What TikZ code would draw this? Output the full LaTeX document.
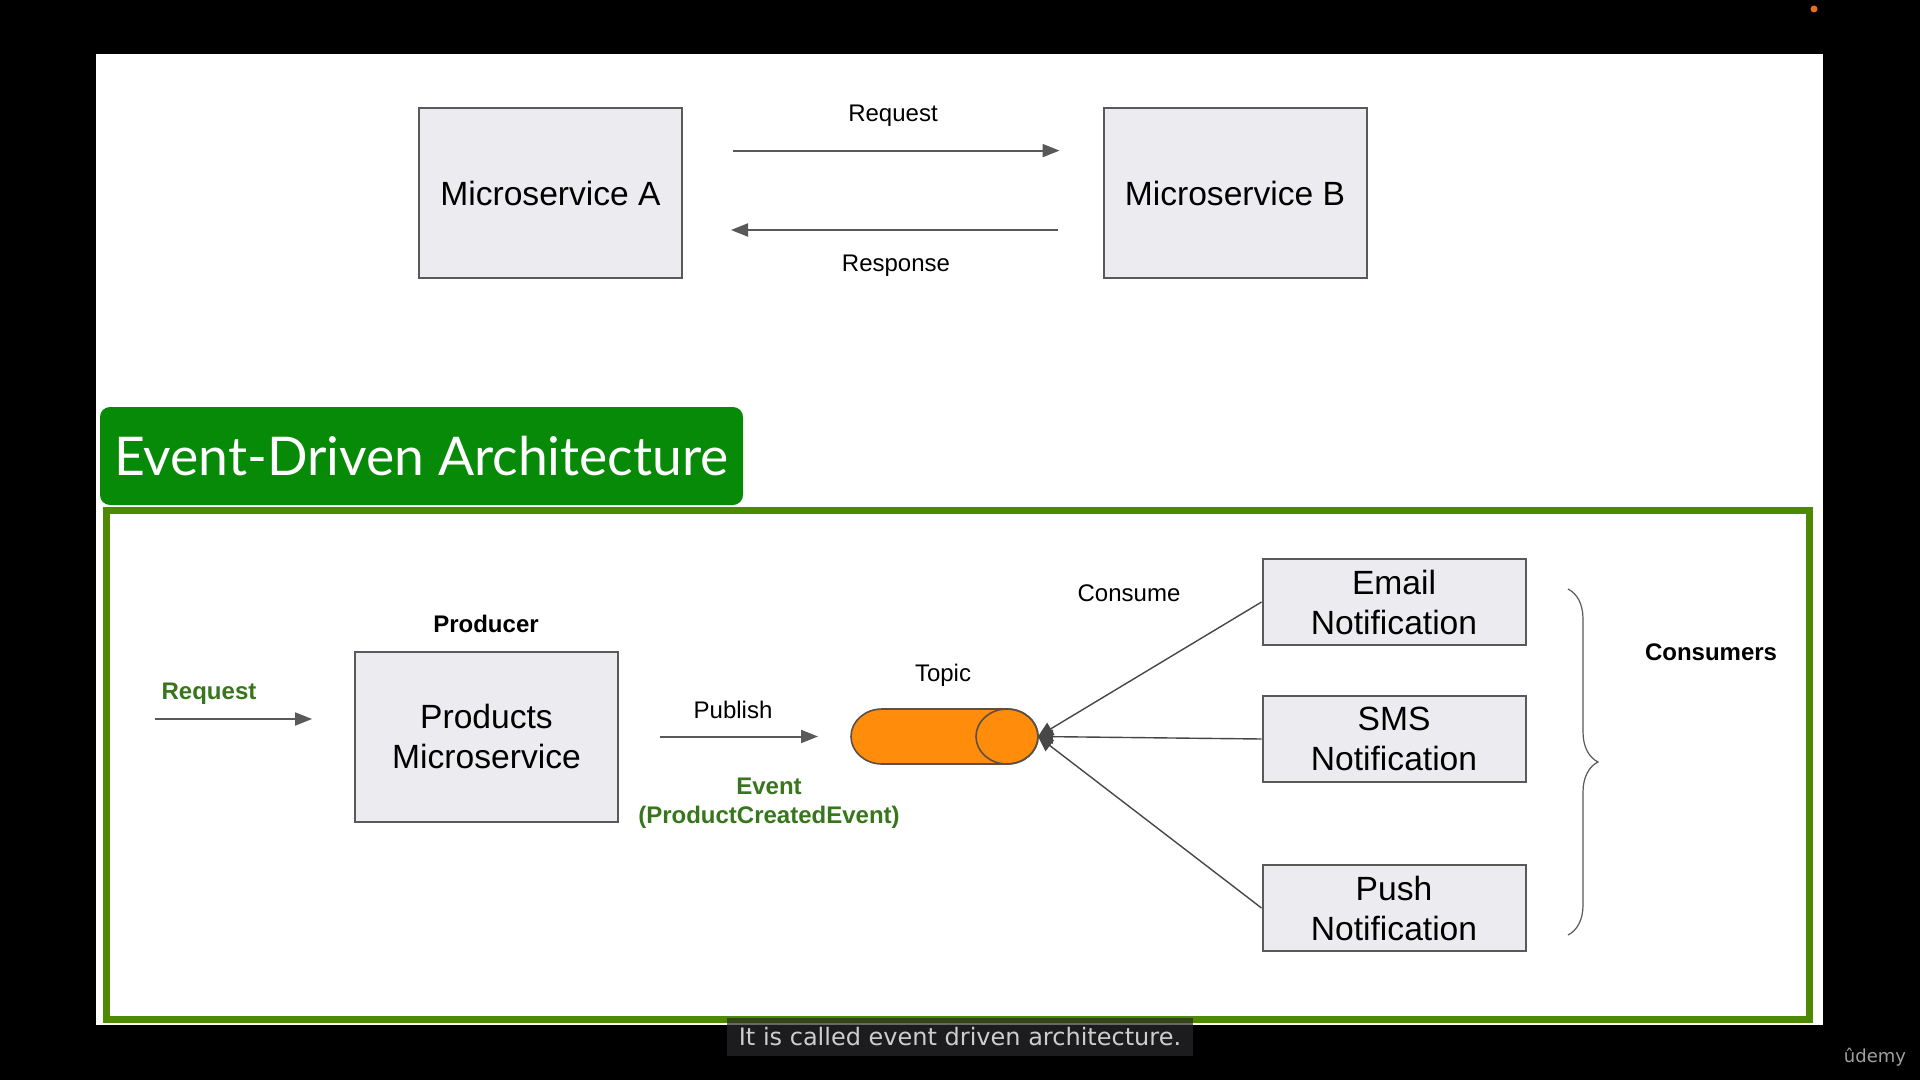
\documentclass[tikz,border=0pt]{standalone}
\usepackage{fontspec}
\setmainfont{Liberation Sans}
\newfontfamily\titlefont{Lato}
\newfontfamily\capfont{DejaVu Sans}
\usetikzlibrary{arrows.meta,decorations.pathreplacing,positioning}

\definecolor{slidegreen}{RGB}{7,138,7}
\definecolor{framegreen}{RGB}{78,137,2}
\definecolor{labelgreen}{RGB}{56,118,29}
\definecolor{boxgray}{RGB}{236,235,239}
\definecolor{linegray}{RGB}{89,89,89}
\definecolor{topicorange}{RGB}{255,140,10}
\definecolor{topicedge}{RGB}{90,80,70}
\definecolor{capbg}{RGB}{40,40,44}
\definecolor{capgray}{RGB}{205,205,205}
\definecolor{logogray}{RGB}{160,160,160}
\definecolor{dotorange}{RGB}{230,110,30}

\tikzset{
  svc/.style={draw=linegray, line width=1pt, fill=boxgray, minimum width=131.5pt,
    minimum height=85pt, align=center, font=\fontsize{16.8}{20}\selectfont},
  cons/.style={svc, minimum height=43pt},
  lbl/.style={font=\fontsize{12}{14}\selectfont},
  lblb/.style={font=\fontsize{12}{14.5}\selectfont\bfseries},
  flow/.style={draw=linegray, line width=1pt, -{Triangle[length=8.5pt,width=6.5pt]}},
  feed/.style={draw=linegray!80!black, line width=0.7pt, -{Triangle[length=7.5pt,width=7pt]}},
}

\begin{document}
\begin{tikzpicture}[x=0.5pt, y=-0.5pt]

% --- Фон и слайд ---
\useasboundingbox (0,0) rectangle (1920,1080);
\fill[black] (0,0) rectangle (1920,1080);
\fill[white] (95.5,54) rectangle (1823,1025);
\fill[dotorange] (1814,9) circle (1.75pt);

% --- Запрос/ответ: два сервиса ---
\node[svc] (msa) at (550.5,193) {Microservice A};
\node[svc] (msb) at (1235,193) {Microservice B};
\draw[flow] ([xshift=25pt,yshift=21.2pt]msa.east) -- ([xshift=-21.5pt,yshift=21.2pt]msb.west);
\draw[flow] ([xshift=-22.5pt,yshift=-18.5pt]msb.west) -- ([xshift=24pt,yshift=-18.5pt]msa.east);
\node[lbl] (reqtop) at (893,116) {Request};
\node[lbl] (resptop) at (896,266) {Response};

% --- Заголовок и рамка ---
\node[fill=slidegreen, rounded corners=5pt, minimum width=321.5pt, minimum height=49pt,
  text=white, font=\titlefont\fontsize{26.7}{30}\selectfont] (header) at (421.5,456)
  {Event-Driven Architecture};
\draw[framegreen, line width=3.5pt] (106.5,510) rectangle (1809.5,1019);

% --- Производитель ---
\node[svc] (prod) at (486.5,736.5) {Products\\Microservice};
\node[lblb] (prodlbl) at (486,624) {Producer};
\coordinate (reqin) at (155,719);
\draw[flow] (reqin) -- ([xshift=-21pt]prod.west |- reqin);
\node[lblb, text=labelgreen] (reqlbl) at (209,694) {Request};

% --- Топик (цилиндр) ---
% левый край x=851, правый x=1038, радиусы 31 x 27.5 px
\coordinate (topicw) at (851,736.5);
\coordinate (topice) at (1038,736.5);
\filldraw[fill=topicorange, draw=topicedge, line width=0.8pt]
  (882,709) -- (1007,709) arc[start angle=90, end angle=-90, x radius=15.5pt, y radius=13.75pt]
  -- (882,764) arc[start angle=270, end angle=90, x radius=15.5pt, y radius=13.75pt] -- cycle;
\draw[topicedge, line width=0.8pt] (1007,736.5) ellipse [x radius=15.5pt, y radius=13.75pt];
\node[lbl] (topiclbl) at (943,675) {Topic};
\draw[flow] ([xshift=20.5pt]prod.east) -- ([xshift=-16.5pt]topicw);
\node[lbl] (publbl) at (733,710) {Publish};
\node[lblb, text=labelgreen, align=center] (evlbl) at (769,803) {Event\\(ProductCreatedEvent)};

% --- Потребители ---
\foreach \nm/\yy/\txt in {email/602/Email, sms/739/SMS, push/908/Push} {
  \node[cons] (\nm) at (1394,\yy) {\txt\\Notification};
  \draw[feed] (\nm.west) -- (topice);
}
\node[lbl] (conslbl) at (1129,593) {Consume};

% --- Скобка ---
\coordinate (brtop) at (1568,589);
\coordinate (brbot) at (1568,935);
\draw[linegray, line width=0.6pt, decorate, decoration={brace, amplitude=15pt}] (brtop) -- (brbot);
\node[lblb] (consumers) at (1711,652) {Consumers};

% --- Субтитры ---
\node[fill=capbg, fill opacity=0.7, text opacity=1, text=capgray, inner sep=0pt,
  minimum width=233pt, minimum height=19pt, font=\capfont\fontsize{12}{14}\selectfont] (caption)
  at (960,1037) {It is called event driven architecture.};
\node[text=logogray, font=\capfont\fontsize{9}{10}\selectfont] (logo) at (1875,1057) {ûdemy};

\end{tikzpicture}
\end{document}
